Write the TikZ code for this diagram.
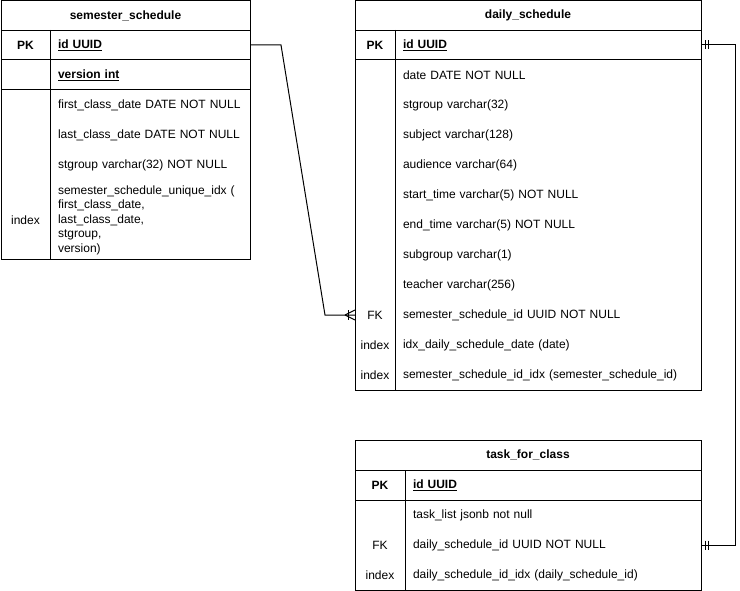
\documentclass[tikz,border=0pt]{standalone}
\usepackage{fontspec}
\setmainfont{Liberation Sans}
\usepackage{tikz}
\usetikzlibrary{positioning}

\tikzset{
  hd/.style={draw, minimum height=30pt, inner sep=0pt, outer sep=0pt, font=\fontsize{12}{14.5}\selectfont\bfseries},
  fld/.style={minimum height=30pt, inner xsep=8pt, inner ysep=0pt, outer sep=0pt, text width=#1, align=left},
  keyc/.style={minimum width=#1, minimum height=30pt, inner sep=0pt, outer sep=0pt},
  tbl/.style={line width=1pt},
  rel/.style={line width=1pt}
}
\newcommand{\pkey}[1]{\underline{\textbf{#1}}}

\begin{document}
\begin{tikzpicture}[x=1pt, y=-1pt, font=\fontsize{12}{14.5}\selectfont]
  \useasboundingbox (0,0) rectangle (740,591);

  % semester_schedule
  \node[hd, minimum width=249pt] (ss) at (125.5,15.5) {semester\_schedule};
  \node[fld=184pt] (ss-id) at (150,45) {\pkey{id UUID}};
  \node[fld=184pt] (ss-ver) [below=0pt of ss-id] {\pkey{version int}};
  \node[fld=184pt] (ss-first) [below=0pt of ss-ver] {first\_class\_date DATE NOT NULL};
  \node[fld=184pt] (ss-last) [below=0pt of ss-first] {last\_class\_date DATE NOT NULL};
  \node[fld=184pt] (ss-grp) [below=0pt of ss-last] {stgroup varchar(32) NOT NULL};
  \node[fld=184pt, minimum height=80pt] (ss-idx) [below=0pt of ss-grp] {semester\_schedule\_unique\_idx (\\first\_class\_date,\\last\_class\_date,\\stgroup,\\version)};
  \node[keyc=49pt] (ss-id-k) [left=0pt of ss-id] {\textbf{PK}};
  \node[keyc=49pt] (ss-idx-k) [left=0pt of ss-idx] {index};
  \draw[tbl] (ss.north west) rectangle (ss-idx.south east);
  \draw[tbl] (ss.south west) -- (ss.south east);
  \draw[tbl] (ss-id-k.south west) -- (ss-id.south east);
  \draw[tbl] (ss-ver.south west -| ss.west) -- (ss-ver.south east);
  \draw[tbl] (ss-id.north west) -- (ss-idx.south west);

  % daily_schedule
  \node[hd, minimum width=346pt] (ds) at (528,15.5) {daily\_schedule};
  \node[fld=290pt] (ds-id) at (548,45) {\pkey{id UUID}};
  \node[fld=290pt] (ds-date) [below=0pt of ds-id] {date DATE NOT NULL};
  \node[fld=290pt] (ds-grp) [below=0pt of ds-date] {stgroup varchar(32)};
  \node[fld=290pt] (ds-subj) [below=0pt of ds-grp] {subject varchar(128)};
  \node[fld=290pt] (ds-aud) [below=0pt of ds-subj] {audience varchar(64)};
  \node[fld=290pt] (ds-start) [below=0pt of ds-aud] {start\_time varchar(5) NOT NULL};
  \node[fld=290pt] (ds-end) [below=0pt of ds-start] {end\_time varchar(5) NOT NULL};
  \node[fld=290pt] (ds-sub) [below=0pt of ds-end] {subgroup varchar(1)};
  \node[fld=290pt] (ds-teach) [below=0pt of ds-sub] {teacher varchar(256)};
  \node[fld=290pt] (ds-semid) [below=0pt of ds-teach] {semester\_schedule\_id UUID NOT NULL};
  \node[fld=290pt] (ds-didx) [below=0pt of ds-semid] {idx\_daily\_schedule\_date (date)};
  \node[fld=290pt] (ds-sidx) [below=0pt of ds-didx] {semester\_schedule\_id\_idx (semester\_schedule\_id)};
  \node[keyc=40pt] (ds-id-k) [left=0pt of ds-id] {\textbf{PK}};
  \node[keyc=40pt] (ds-semid-k) [left=0pt of ds-semid] {FK};
  \node[keyc=40pt] (ds-didx-k) [left=0pt of ds-didx] {index};
  \node[keyc=40pt] (ds-sidx-k) [left=0pt of ds-sidx] {index};
  \draw[tbl] (ds.north west) rectangle (ds-sidx.south east);
  \draw[tbl] (ds.south west) -- (ds.south east);
  \draw[tbl] (ds-id-k.south west) -- (ds-id.south east);
  \draw[tbl] (ds-id.north west) -- (ds-sidx.south west);

  % task_for_class
  \node[hd, minimum width=346pt] (tc) at (528,455) {task\_for\_class};
  \node[fld=280pt] (tc-id) at (553,485) {\pkey{id UUID}};
  \node[fld=280pt] (tc-list) [below=0pt of tc-id] {task\_list jsonb not null};
  \node[fld=280pt] (tc-dsid) [below=0pt of tc-list] {daily\_schedule\_id UUID NOT NULL};
  \node[fld=280pt] (tc-idx) [below=0pt of tc-dsid] {daily\_schedule\_id\_idx (daily\_schedule\_id)};
  \node[keyc=50pt] (tc-id-k) [left=0pt of tc-id] {\textbf{PK}};
  \node[keyc=50pt] (tc-dsid-k) [left=0pt of tc-dsid] {FK};
  \node[keyc=50pt] (tc-idx-k) [left=0pt of tc-idx] {index};
  \draw[tbl] (tc.north west) rectangle (tc-idx.south east);
  \draw[tbl] (tc.south west) -- (tc.south east);
  \draw[tbl] (tc-id-k.south west) -- (tc-id.south east);
  \draw[tbl] (tc-id.north west) -- (tc-idx.south west);

  % relations
  \coordinate (b1) at (281,45);
  \coordinate (b2) at (325,315);
  \draw[rel] (ss-id.east) -- (b1) -- (b2) -- (ds-semid-k.west);
  \draw[rel] ([xshift=-10pt]ds-semid-k.west) -- ([yshift=5pt]ds-semid-k.west)
             ([xshift=-10pt]ds-semid-k.west) -- ([yshift=-5pt]ds-semid-k.west);
  \draw[rel] ([xshift=-7pt,yshift=5pt]ds-semid-k.west) -- ([xshift=-7pt,yshift=-5pt]ds-semid-k.west);

  \coordinate (b3) at (735,45);
  \coordinate (b4) at (735,545);
  \draw[rel] (ds-id.east) -- (b3) -- (b4) -- (tc-dsid.east);
  \draw[rel] ([xshift=4pt,yshift=4.5pt]ds-id.east) -- ([xshift=4pt,yshift=-4.5pt]ds-id.east)
             ([xshift=7pt,yshift=4.5pt]ds-id.east) -- ([xshift=7pt,yshift=-4.5pt]ds-id.east);
  \draw[rel] ([xshift=4pt,yshift=4.5pt]tc-dsid.east) -- ([xshift=4pt,yshift=-4.5pt]tc-dsid.east)
             ([xshift=7pt,yshift=4.5pt]tc-dsid.east) -- ([xshift=7pt,yshift=-4.5pt]tc-dsid.east);
\end{tikzpicture}
\end{document}
